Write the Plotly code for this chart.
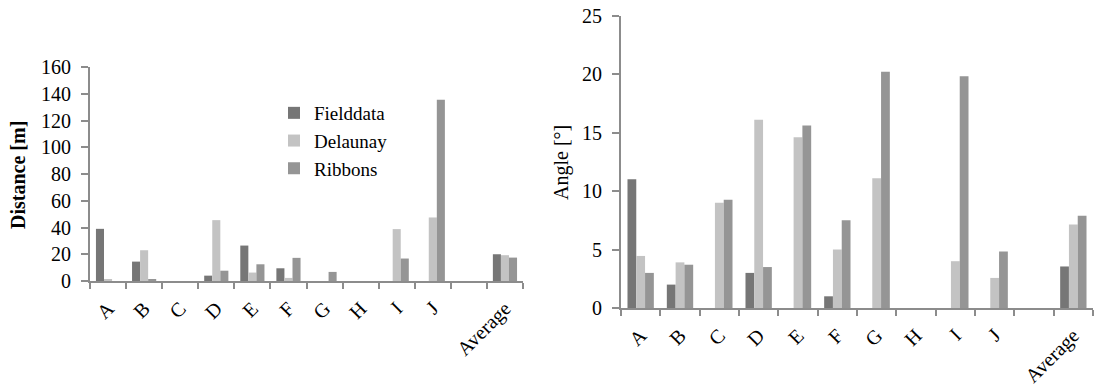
import plotly.graph_objects as go

categories = ["A", "B", "C", "D", "E", "F", "G", "H", "I", "J", " ", "Average"]

dist_field = [39, 14.5, 0, 4, 26.5, 9.5, 0, 0, 0, 0, None, 20]
dist_delaunay = [1, 23, 0, 45.5, 6.3, 2.3, 0, 0, 38.8, 47.5, None, 19.3]
dist_ribbons = [0, 0.8, 0, 7.7, 12.5, 17.3, 6.8, 0, 16.8, 135.5, None, 17.5]

angle_field = [11.0, 2.0, 0, 3.0, 0, 1.0, 0, 0, 0, 0, None, 3.55]
angle_delaunay = [4.45, 3.9, 9.0, 16.1, 14.6, 5.0, 11.1, 0, 4.0, 2.57, None, 7.14]
angle_ribbons = [3.0, 3.7, 9.25, 3.5, 15.6, 7.5, 20.2, 0, 19.8, 4.83, None, 7.88]

series_names = ["Fielddata", "Delaunay", "Ribbons"]
colors = ["#767676", "#c3c3c3", "#959595"]
y_titles = ["<b>Distance [m]</b>", "Angle [°]"]

W, H = 1094, 389
FONT = "Liberation Serif"
AX = "#8c8c8c"
FS = 20

fig = go.Figure()
for name, vals, col in zip(series_names, [dist_field, dist_delaunay, dist_ribbons], colors):
    fig.add_trace(go.Bar(x=categories, y=vals, name=name, marker_color=col,
                         marker_line_width=0, xaxis="x", yaxis="y", showlegend=True))
for name, vals, col in zip(series_names, [angle_field, angle_delaunay, angle_ribbons], colors):
    fig.add_trace(go.Bar(x=categories, y=vals, name=name, marker_color=col,
                         marker_line_width=0, xaxis="x2", yaxis="y2", showlegend=False))

def px_x(p):
    return p / W

def px_y(p):
    return 1 - p / H

common_x = dict(type="category", showgrid=False, showline=True, linecolor=AX, linewidth=2,
                ticks="outside", tickson="boundaries", ticklen=6, tickcolor=AX, tickwidth=2,
                tickangle=-45, tickfont=dict(family=FONT, size=FS, color="black"),
                zeroline=False, fixedrange=True, automargin=False)
common_y = dict(showgrid=False, showline=True, linecolor=AX, linewidth=2, ticks="outside",
                ticklen=7, tickcolor=AX, tickwidth=2, zeroline=False, automargin=False,
                ticklabelstandoff=6,
                tickfont=dict(family=FONT, size=FS, color="black"))

fig.update_layout(
    template="none",
    width=W, height=H,
    margin=dict(l=0, r=0, t=0, b=0),
    paper_bgcolor="white", plot_bgcolor="white",
    barmode="group", bargap=0.33, bargroupgap=0,
    font=dict(family=FONT, color="black"),
    xaxis=dict(domain=[px_x(90), px_x(523)], anchor="y", ticklabelstandoff=6, **common_x),
    yaxis=dict(domain=[px_y(281), px_y(67)], anchor="x", range=[0, 160], dtick=20, **common_y),
    xaxis2=dict(domain=[px_x(621), px_x(1093)], anchor="y2", ticklabelstandoff=6, **common_x),
    yaxis2=dict(domain=[px_y(308), px_y(15.5)], anchor="x2", range=[0, 25], dtick=5, **common_y),
    legend=dict(x=px_x(274), y=px_y(94), xanchor="left", yanchor="top",
                font=dict(family=FONT, size=19, color="black"), bgcolor="rgba(0,0,0,0)",
                tracegroupgap=0, itemwidth=30),
    showlegend=True,
    annotations=[
        dict(text=y_titles[0], textangle=-90, xref="paper", yref="paper",
             x=px_x(18), y=px_y(175), showarrow=False, xanchor="center", yanchor="middle",
             font=dict(family=FONT, size=FS, color="black")),
        dict(text=y_titles[1], textangle=-90, xref="paper", yref="paper",
             x=px_x(561), y=px_y(163), showarrow=False, xanchor="center", yanchor="middle",
             font=dict(family=FONT, size=FS, color="black")),
    ],
)

fig.write_html("out.html", post_script="document.body.style.margin='0px';",
               config={"displayModeBar": False})
